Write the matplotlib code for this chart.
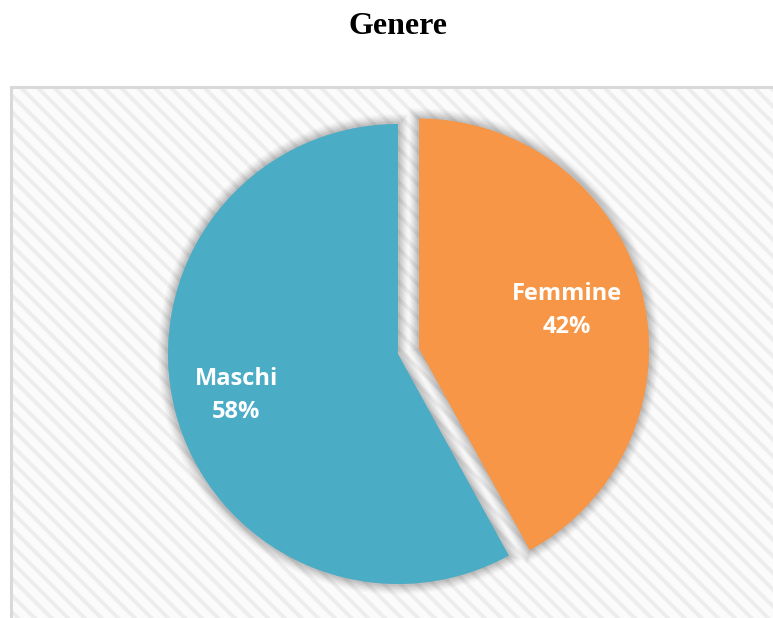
import matplotlib
matplotlib.use("Agg")
import matplotlib.pyplot as plt
from matplotlib.patches import Rectangle
import matplotlib.patheffects as pe
import numpy as np

categories = ["Femmine", "Maschi"]
values = [42, 58]
colors = ["#F79646", "#4BACC6"]
title = "Genere"

W, H = 773, 618
fig = plt.figure(figsize=(W / 100, H / 100), dpi=100)
fig.patch.set_facecolor("white")
ax = fig.add_axes([0, 0, 1, 1])
ax.set_xlim(0, W)
ax.set_ylim(0, H)
ax.set_aspect("equal")
ax.axis("off")

plt.rcParams["hatch.linewidth"] = 2.8
bg = Rectangle((11, -10), W, H - 87 + 10, facecolor="#FBFBFB",
               edgecolor="#EDEDED", linewidth=0, hatch="\\\\", zorder=0)
ax.add_patch(bg)
border = Rectangle((11, -10), W, H - 87 + 10, facecolor="none",
                   edgecolor="#D9D9D9", linewidth=2.2, zorder=1)
ax.add_patch(border)

glow = [pe.Stroke(linewidth=lw, foreground="#000000", alpha=a)
        for lw, a in [(15, 0.02), (13, 0.025), (11, 0.03), (9, 0.035),
                      (7, 0.04), (5, 0.045), (3, 0.05)]] + [pe.Normal()]

labels = [f"{c}\n{v}%" for c, v in zip(categories, values)]
wedges, texts = ax.pie(values, labels=labels, colors=colors, startangle=90,
                       counterclock=False, center=(398, H - 354), radius=230,
                       explode=[21.7, 0], labeldistance=0.7,
                       wedgeprops=dict(linewidth=0, path_effects=glow),
                       textprops=dict(color="white", fontsize=17,
                                      fontweight="bold", family="Open Sans"),
                       frame=True)
label_dist = [0.665, 0.725]
for w, t, d in zip(wedges, texts, label_dist):
    w.set_zorder(3)
    ang = np.deg2rad(0.5 * (w.theta1 + w.theta2))
    cx, cy = w.center
    t.set_position((cx + d * w.r * np.cos(ang), cy + d * w.r * np.sin(ang)))
    t.set_ha("center")
    t.set_va("center")
    t.set_multialignment("center")
    t.set_linespacing(1.5)
    t.set_zorder(5)

ax.set_xlim(0, W)
ax.set_ylim(0, H)
ax.axis("off")

fig.text(398 / W, 1 - 26 / H, title, ha="center", va="center",
         fontsize=23, fontweight="bold", family="Liberation Serif")

fig.savefig("out.png", dpi=100)
